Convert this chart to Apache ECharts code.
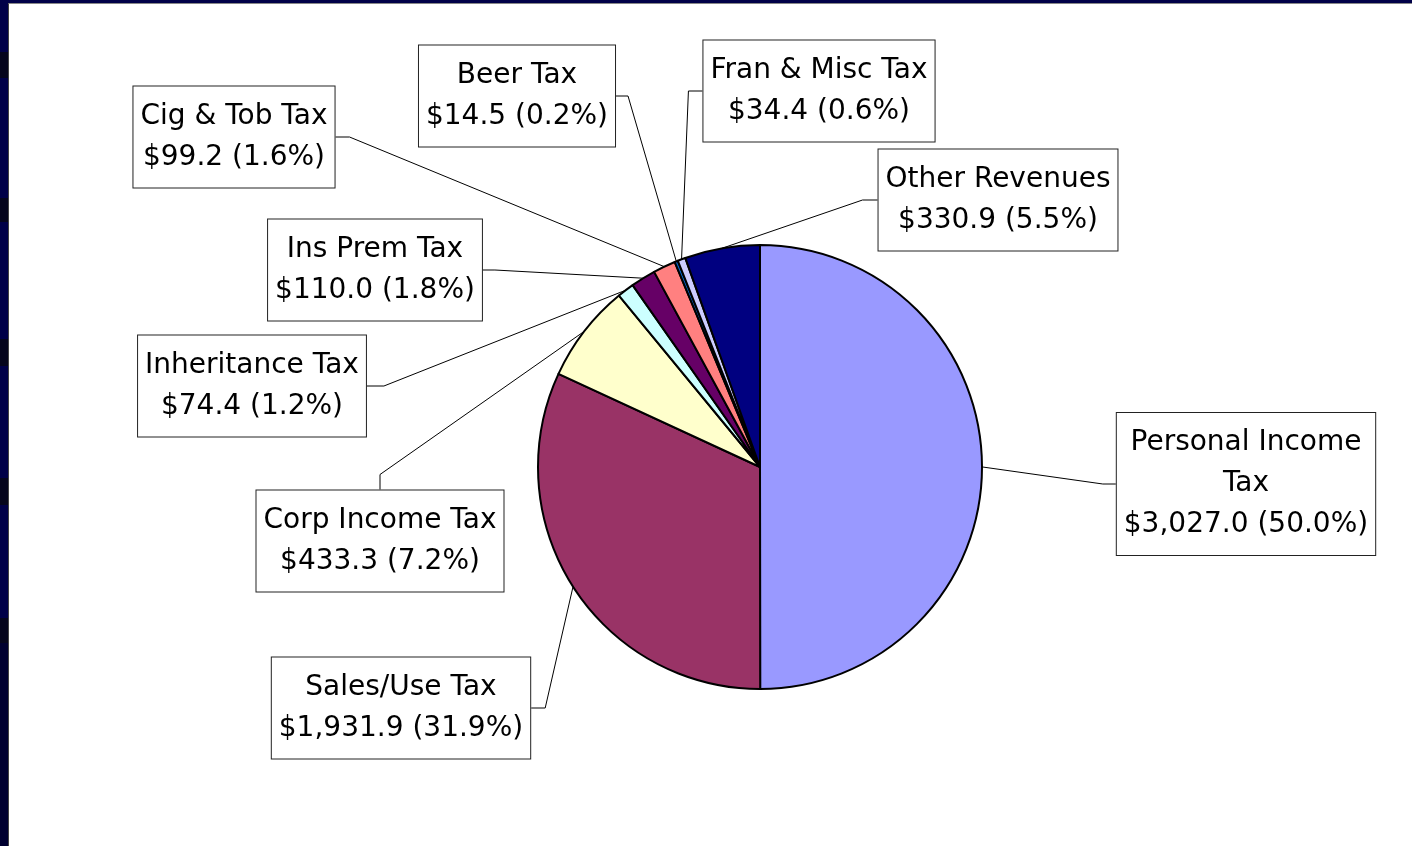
<!DOCTYPE html>
<html>
<head>
<meta charset="utf-8">
<script src="https://cdn.jsdelivr.net/npm/echarts@6/dist/echarts.min.js"></script>
<style>
html,body{margin:0;padding:0;width:1412px;height:846px;overflow:hidden;}
body{background:linear-gradient(to bottom,#000048 0px,#000048 52px,#05051c 52px,#05051c 78px,#000048 78px,#000048 198px,#05051c 198px,#05051c 222px,#000048 222px,#000048 339px,#05051c 339px,#05051c 366px,#000048 366px,#000048 478px,#05051c 478px,#05051c 505px,#000048 505px,#000048 618px,#05051c 618px,#05051c 643px,#000030 643px);position:relative;}
#paper{position:absolute;left:8px;top:3px;right:0;bottom:0;background:#fff;border-left:1px solid #444;border-top:1px solid #888;}
#chart{position:absolute;left:0;top:0;width:1412px;height:846px;}
</style>
</head>
<body>
<div id="paper"></div>
<div id="chart"></div>
<script>
// Data
const categories = ['Personal Income\nTax','Sales/Use Tax','Corp Income Tax','Inheritance Tax','Ins Prem Tax','Cig & Tob Tax','Beer Tax','Fran & Misc Tax','Other Revenues'];
const values = [3027.0, 1931.9, 433.3, 74.4, 110.0, 99.2, 14.5, 34.4, 330.9];
const colors = ['#9999FF','#993366','#FFFFCC','#CCFFFF','#660066','#FF8080','#0066CC','#CCCCFF','#000080'];

// Layout (label box centres, connecting side)
const labelCenters = [[1246,484],[401,708],[380,541],[252,386],[375,270],[234,137],[517,96],[819,91],[998,200]];
const labelSide = ['left','right','top','right','right','right','right','left','left'];
const legLen = [13,14,15,17,12,14,12,14,15];

const total = values.reduce((a,b)=>a+b,0);
function fmtMoney(v){
  return '$' + v.toLocaleString('en-US',{minimumFractionDigits:1,maximumFractionDigits:1});
}

const chart = echarts.init(document.getElementById('chart'), null, {renderer:'canvas'});
chart.setOption({
  animation:false,
  backgroundColor:'transparent',
  series:[{
    type:'pie',
    center:[760,467],
    radius:222,
    startAngle:90,
    clockwise:true,
    avoidLabelOverlap:false,
    minShowLabelAngle:0,
    data: categories.map((c,i)=>({name:c,value:values[i],itemStyle:{color:colors[i]}})),
    itemStyle:{borderColor:'#000',borderWidth:2},
    label:{
      show:true,
      position:'outside',
      formatter:function(p){
        return p.name + '\n' + fmtMoney(p.value) + ' (' + (p.value/total*100).toFixed(1) + '%)';
      },
      fontFamily:'DejaVu Sans',
      fontSize:28,
      lineHeight:41,
      color:'#000',
      align:'center',
      backgroundColor:'#fff',
      borderColor:'#222',
      borderWidth:1,
      padding:[10,7,9,7]
    },
    labelLine:{show:true,length:10,length2:10,smooth:false,lineStyle:{color:'#000',width:1}},
    emphasis:{disabled:true},
    labelLayout:function(p){
      const i = p.dataIndex;
      const c = labelCenters[i];
      const w = p.labelRect.width, h = p.labelRect.height;
      const res = {x:c[0], y:c[1], align:'center', verticalAlign:'middle'};
      if (p.labelLinePoints && p.labelLinePoints.length){
        const a = p.labelLinePoints[0];
        let e, b;
        const L = legLen[i];
        if (labelSide[i]==='left'){ e=[c[0]-w/2,c[1]]; b=[e[0]-L,e[1]]; }
        else if (labelSide[i]==='right'){ e=[c[0]+w/2,c[1]]; b=[e[0]+L,e[1]]; }
        else if (labelSide[i]==='top'){ e=[c[0],c[1]-h/2]; b=[e[0],e[1]-L]; }
        else { e=[c[0],c[1]+h/2]; b=[e[0],e[1]+L]; }
        res.labelLinePoints=[[a[0],a[1]],b,e];
      }
      return res;
    }
  }]
});
</script>
</body>
</html>
